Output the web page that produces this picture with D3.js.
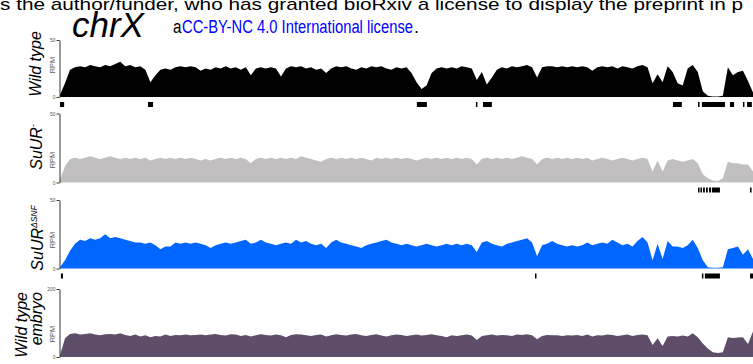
<!DOCTYPE html>
<html>
<head>
<meta charset="utf-8">
<script src="https://cdn.jsdelivr.net/npm/d3@7"></script>
<style>
  body { margin: 0; background: #fff; }
  svg { display: block; font-family: 'Liberation Sans', Arial, sans-serif; }
</style>
</head>
<body>
<div id="chart"></div>
<script>
/**
 * Coverage along chrX, RPM per 0.17 Mb bin
 */
const binSizeMb = 0.17

const wildTypeRpm = [
  2, 12, 24, 26, 27, 26, 28, 27, 26, 28,
  27, 29, 31, 27, 28, 26, 27, 24, 13, 19,
  24, 25, 24, 26, 27, 26, 27, 26, 23, 25,
  24, 26, 25, 27, 25, 26, 24, 26, 19, 25,
  26, 25, 26, 25, 18, 25, 27, 26, 27, 25,
  26, 24, 25, 21, 25, 27, 26, 27, 25, 24,
  26, 25, 27, 26, 27, 25, 24, 26, 25, 26,
  21, 13, 7, 10, 21, 25, 26, 25, 26, 25,
  27, 26, 25, 15, 22, 11, 17, 24, 26, 25,
  27, 26, 27, 28, 26, 17, 26, 27, 27, 26,
  27, 26, 27, 26, 27, 26, 23, 26, 27, 26,
  27, 25, 27, 26, 25, 27, 28, 26, 12, 20,
  13, 27, 22, 12, 10, 25, 28, 22, 5, 1,
  0.5, 0.5, 1, 26, 19, 22, 23, 14, 4
]

const suurRpm = [
  2, 12, 17, 18, 17, 18, 19, 18, 17, 18,
  19, 18, 17, 18, 17, 18, 17, 18, 16, 17,
  18, 17, 18, 17, 18, 17, 18, 17, 16, 17,
  16, 17, 18, 17, 18, 17, 18, 17, 14, 17,
  18, 17, 18, 17, 18, 17, 18, 17, 19, 18,
  17, 16, 15, 17, 18, 17, 18, 17, 18, 17,
  18, 17, 16, 18, 17, 18, 17, 18, 17, 18,
  17, 16, 17, 18, 17, 18, 17, 18, 17, 18,
  17, 18, 17, 13, 17, 18, 17, 18, 17, 18,
  17, 18, 19, 18, 17, 13, 17, 18, 17, 18,
  17, 18, 17, 18, 17, 18, 16, 17, 18, 17,
  16, 17, 18, 17, 16, 17, 18, 17, 8, 16,
  8, 16, 17, 16, 15, 16, 17, 14, 6, 3,
  1.5, 1, 3, 15, 14, 14, 13, 13, 8
]

const suurSnfRpm = [
  1, 6, 13, 18, 21, 20, 22, 21, 22, 25,
  22, 23, 22, 21, 20, 19, 19, 18, 19, 17,
  14, 16, 16, 19, 18, 19, 18, 19, 18, 17,
  15, 17, 18, 19, 18, 19, 20, 21, 18, 19,
  21, 19, 18, 17, 18, 19, 18, 21, 19, 20,
  18, 17, 18, 15, 19, 21, 19, 18, 17, 16,
  15, 17, 18, 19, 20, 21, 19, 18, 17, 18,
  17, 16, 17, 18, 17, 16, 17, 18, 17, 18,
  17, 18, 17, 12, 19, 20, 18, 17, 16, 18,
  19, 20, 21, 22, 19, 9, 17, 18, 20, 18,
  17, 16, 17, 16, 17, 19, 17, 18, 19, 18,
  21, 19, 17, 18, 16, 20, 23, 19, 6, 18,
  7, 20, 16, 16, 15, 17, 21, 15, 6, 1,
  0.5, 0.5, 1, 14, 15, 16, 10, 14, 7
]

const embryoRpm = [
  5, 55, 68, 70, 66, 68, 70, 66, 64, 67,
  68, 66, 70, 65, 62, 66, 60, 64, 58, 62,
  60, 66, 62, 65, 64, 66, 64, 65, 66, 64,
  66, 68, 65, 63, 67, 66, 62, 65, 60, 64,
  67, 65, 63, 66, 64, 58, 65, 67, 66, 64,
  62, 65, 66, 60, 64, 67, 65, 63, 66, 68,
  64, 62, 65, 67, 63, 60, 64, 66, 65, 62,
  64, 66, 63, 65, 67, 64, 62, 58, 64, 62,
  64, 66, 63, 50, 62, 64, 66, 63, 65, 64,
  62, 66, 65, 67, 64, 52, 62, 65, 64, 64,
  62, 64, 63, 65, 62, 66, 60, 64, 63, 66,
  65, 62, 64, 66, 62, 65, 66, 64, 35, 55,
  32, 60, 62, 60, 63, 60, 70, 58, 40, 25,
  14, 12, 14, 58, 56, 57, 58, 38, 75
]

// called regions under each track, [start, end] in Mb
const wildTypeRegions = [
  [0, 0.14], [2.98, 3.15], [12.08, 12.42], [14.08, 14.13], [14.32, 14.62],
  [20.75, 21.05], [21.6, 21.65], [21.73, 22.51], [22.68, 22.82],
  [23.12, 23.17], [23.26, 23.42]
]
const suurRegions = [
  [21.6, 21.65], [21.68, 21.73], [21.77, 21.83], [21.87, 21.93],
  [21.97, 22.04], [22.07, 22.34], [23.36, 23.41]
]
const suurSnfRegions = [
  [0.03, 0.1], [16.08, 16.13], [21.73, 21.78], [21.83, 22.34], [23.36, 23.46]
]
const embryoRegions = []

const trackMaxima = [50, 50, 50, 200]
const chromosome = 'chrX'

/**
 * Layout of each track
 */
const width = 753
const height = 364
const axisX = 60
const font = "'Liberation Sans', Arial, sans-serif"

const tracks = [
  { values: wildTypeRpm, regions: wildTypeRegions, max: trackMaxima[0], colour: '#000000',
    top: 40, bottom: 97, rpmY: 65,
    title: [{ x: 41, y: 64, anchor: 'middle', parts: [['Wild type']] }] },
  { values: suurRpm, regions: suurRegions, max: trackMaxima[1], colour: '#c1bfc0',
    top: 113.5, bottom: 182.5, rpmY: 160,
    title: [{ x: 42, y: 147, anchor: 'middle', parts: [['SuUR'], ['-', true]] }] },
  { values: suurSnfRpm, regions: suurSnfRegions, max: trackMaxima[2], colour: '#0066ff',
    top: 200, bottom: 268.5, rpmY: 240,
    title: [{ x: 43, y: 238, anchor: 'middle', parts: [['SuUR'], ['\u0394SNF', true]] }] },
  { values: embryoRpm, regions: embryoRegions, max: trackMaxima[3], colour: '#5f4e69',
    top: 289, bottom: 357, rpmY: 334,
    title: [
      { x: 27, y: 292, anchor: 'end', parts: [['Wild type']] },
      { x: 42, y: 292, anchor: 'end', parts: [['embryo']] }
    ] }
]

let svg = d3.select('#chart')
  .append('svg')
  .attr('width', width)
  .attr('height', height)

let x = d3.scaleLinear()
  .domain([0, (wildTypeRpm.length - 1) * binSizeMb])
  .range([axisX, width])

// header, cut off from the preprint page
svg.append('text')
  .attr('x', 0)
  .attr('y', 9.5)
  .attr('font-size', 17)
  .attr('textLength', 743)
  .attr('lengthAdjust', 'spacingAndGlyphs')
  .text('s the author/funder, who has granted bioRxiv a license to display the preprint in p')

// licence line: black 'a', blue link text, black full stop
svg.append('text')
  .attr('x', 173)
  .attr('y', 32.5)
  .attr('font-size', 18)
  .attr('textLength', 8.5)
  .attr('lengthAdjust', 'spacingAndGlyphs')
  .text('a')
svg.append('text')
  .attr('x', 182)
  .attr('y', 32.5)
  .attr('font-size', 18)
  .attr('fill', '#0000ff')
  .attr('textLength', 231)
  .attr('lengthAdjust', 'spacingAndGlyphs')
  .text('CC-BY-NC 4.0 International license')
svg.append('text')
  .attr('x', 414)
  .attr('y', 32.5)
  .attr('font-size', 18)
  .text('.')

svg.append('text')
  .attr('x', 72)
  .attr('y', 37)
  .attr('font-size', 35)
  .attr('font-style', 'italic')
  .text(chromosome)

tracks.forEach((t) => {
  let y = d3.scaleLinear()
    .domain([0, t.max])
    .range([t.bottom, t.top])

  let area = d3.area()
    .x((d, i) => x(i * binSizeMb))
    .y0(y(0))
    .y1((d) => y(d))

  svg.append('path')
    .datum(t.values)
    .attr('fill', t.colour)
    .attr('d', area)

  // region marks under the track
  svg.append('g')
    .selectAll('rect')
    .data(t.regions)
    .enter()
    .append('rect')
    .attr('x', (d) => x(d[0]))
    .attr('y', t.bottom + 5)
    .attr('width', (d) => Math.max(1.5, x(d[1]) - x(d[0])))
    .attr('height', 5)
    .attr('fill', '#000')

  // axis
  let axis = d3.axisLeft(y)
    .tickValues([0, t.max])
    .tickSize(3)
    .tickSizeOuter(0)
    .tickPadding(1)

  let g = svg.append('g')
    .attr('transform', `translate(${axisX - 0.5},0)`)
    .call(axis)
  g.select('.domain').attr('stroke', '#333')
  g.selectAll('.tick line').attr('stroke', '#333')
  g.selectAll('.tick text')
    .attr('font-size', 5)
    .attr('font-family', font)
    .attr('fill', '#555')

  svg.append('text')
    .attr('transform', `translate(55,${t.rpmY}) rotate(-90)`)
    .attr('text-anchor', 'middle')
    .attr('font-size', 7.5)
    .attr('fill', '#555')
    .text('RPM')

  // track title
  t.title.forEach((line) => {
    let txt = svg.append('text')
      .attr('transform', `translate(${line.x},${line.y}) rotate(-90)`)
      .attr('text-anchor', line.anchor)
      .attr('font-size', 16)
      .attr('font-style', 'italic')
    line.parts.forEach((p) => {
      let span = txt.append('tspan').text(p[0])
      if (p[1]) {
        span.attr('font-size', 8.5).attr('dy', -6)
      }
    })
  })
})
</script>
</body>
</html>
